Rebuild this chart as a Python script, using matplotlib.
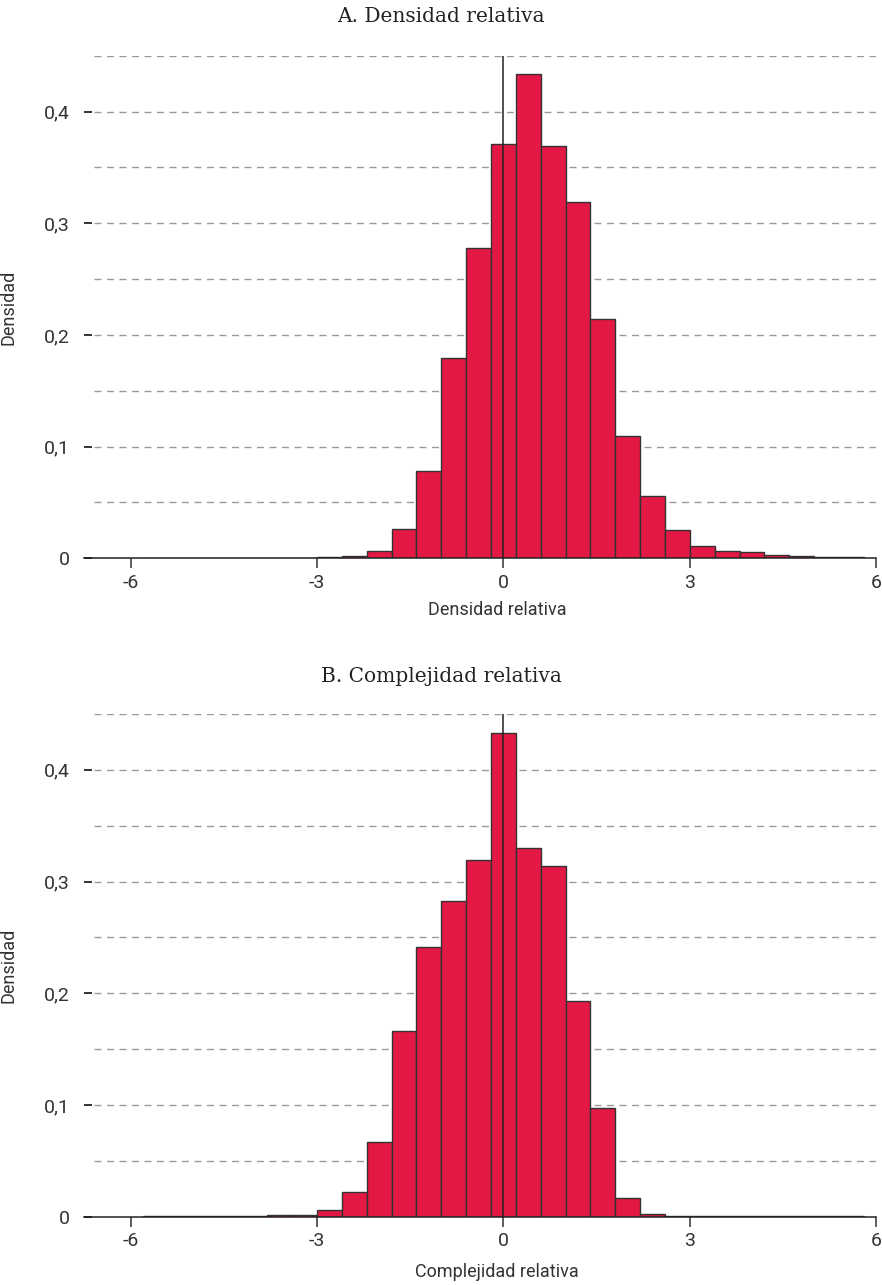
import numpy as np
import matplotlib
matplotlib.use("Agg")
import matplotlib.pyplot as plt
from matplotlib import font_manager

# Bin edges shared by both histograms (width 0.4)
bin_edges = np.round(np.arange(-5.8, 5.8001, 0.4), 1)

density_a = [0.0003, 0.0003, 0.0003, 0.0003, 0.0003, 0.0004, 0.0006, 0.0008,
             0.0020, 0.0068, 0.0260, 0.0785, 0.1790, 0.2780, 0.3710, 0.4340,
             0.3690, 0.3190, 0.2145, 0.1095, 0.0562, 0.0253, 0.0112, 0.0068,
             0.0058, 0.0030, 0.0018, 0.0016, 0.0008]

density_b = [0.0003, 0.0003, 0.0003, 0.0006, 0.0009, 0.0013, 0.0015, 0.0060,
             0.0224, 0.0666, 0.1662, 0.2417, 0.2829, 0.3193, 0.4330, 0.3298,
             0.3137, 0.1931, 0.0973, 0.0170, 0.0027, 0.0004, 0.0003, 0.0003,
             0.0002, 0.0002, 0.0002, 0.0002, 0.0002]

titles = ["A. Densidad relativa", "B. Complejidad relativa"]
xlabels = ["Densidad relativa", "Complejidad relativa"]
ylabel = "Densidad"
xticks = [-6, -3, 0, 3, 6]
xtick_labels = ["-6", "-3", "0", "3", "6"]
yticks = [0, 0.1, 0.2, 0.3, 0.4]
ytick_labels = ["0", "0,1", "0,2", "0,3", "0,4"]
grid_levels = [0.05, 0.1, 0.15, 0.2, 0.25, 0.3, 0.35, 0.4, 0.45]

available = {f.name for f in font_manager.fontManager.ttflist}
sans = "Liberation Sans Narrow" if "Liberation Sans Narrow" in available else "Roboto"
serif = "DejaVu Serif"

BAR = "#E31844"
EDGE = "#333333"
GRID = "#9a9a9a"
TXT = "#333333"

W, H = 882, 1285
fig = plt.figure(figsize=(W / 100, H / 100), dpi=100)

def px_box(left, right, top, bottom):
    return [left / W, 1 - bottom / H, (right - left) / W, (bottom - top) / H]

panels = [
    dict(box=px_box(84, 876.3, 55.8, 558.3), data=density_a,
         title_y=17, xlabel_y=610),
    dict(box=px_box(84, 876.3, 714.0, 1216.7), data=density_b,
         title_y=677, xlabel_y=1272),
]

for i, p in enumerate(panels):
    ax = fig.add_axes(p["box"])
    ax.set_xlim(-6.75, 6)
    ax.set_ylim(0, 0.45)

    for lvl in grid_levels:
        ax.hlines(lvl, -6.59, 6, colors=GRID, linestyles=(0, (5, 4)),
                  linewidth=1.0, zorder=0.5)

    ax.bar(bin_edges[:-1], p["data"], width=0.4, align="edge",
           color=BAR, edgecolor=EDGE, linewidth=1.0, zorder=2)

    ax.vlines(0, 0, 0.45, colors="#222222", linewidth=1.1, zorder=3)

    for side in ["top", "right", "left"]:
        ax.spines[side].set_visible(False)
    ax.spines["bottom"].set_color("#222222")
    ax.spines["bottom"].set_linewidth(1.1)
    ax.spines["bottom"].set_zorder(4)

    ax.set_xticks(xticks)
    ax.set_xticklabels(xtick_labels, fontfamily=sans, fontsize=14, color=TXT)
    ax.set_yticks(yticks)
    ax.set_yticklabels(ytick_labels, fontfamily=sans, fontsize=14, color=TXT)
    ax.tick_params(axis="x", direction="out", length=7, width=1.1,
                   color="#333333", pad=4)
    ax.tick_params(axis="y", direction="in", length=6, width=1.3,
                   color="#222222", pad=10)
    ax.set_facecolor("none")

    ax.set_ylabel(ylabel, fontfamily=sans, fontsize=13, color=TXT)
    ax.yaxis.set_label_coords(-(84 - 18) / (876.3 - 84), 0.5)

    fig.text(441 / W, 1 - p["title_y"] / H, titles[i], ha="center",
             va="center", fontfamily=serif, fontsize=14.5, color="#222222")
    fig.text(497 / W, 1 - p["xlabel_y"] / H, xlabels[i], ha="center",
             va="center", fontfamily=sans, fontsize=13, color=TXT)

fig.savefig("out.png", dpi=100, facecolor="white")
